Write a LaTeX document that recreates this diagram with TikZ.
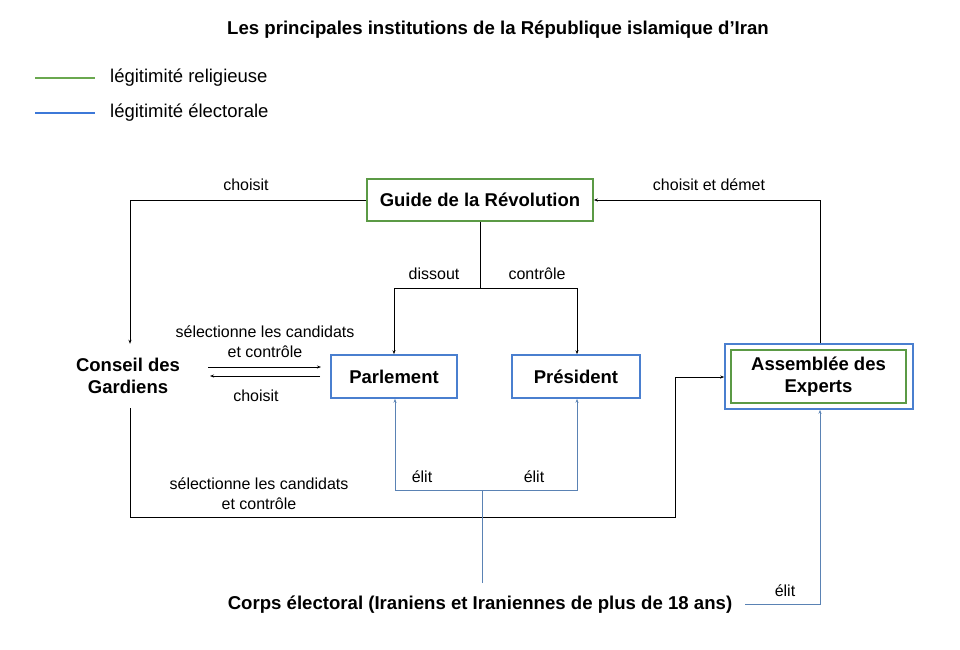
\documentclass[tikz,border=0pt]{standalone}
\usepackage{fontspec}
\setmainfont{Liberation Sans}
\usetikzlibrary{arrows.meta}
\definecolor{grn}{HTML}{5B9A45}
\definecolor{lgrn}{HTML}{6AA84F}
\definecolor{blu}{HTML}{4A7FCF}
\definecolor{lblu}{HTML}{3C78D8}
\definecolor{cblu}{HTML}{5A82B4}
\begin{document}
\begin{tikzpicture}[x=1pt,y=-1pt,
  lbl/.style={font=\fontsize{16}{20}\selectfont, inner sep=0pt, align=center},
  inst/.style={font=\fontsize{18.5}{22}\selectfont\bfseries, align=center, inner sep=0pt},
  conn/.style={draw=black, line width=0.8pt, -{Stealth[length=4pt,width=3pt]}},
  elec/.style={draw=cblu, line width=0.8pt, -{Stealth[length=4pt,width=3pt]}},
  plain/.style={draw=black, line width=0.8pt},
  plainb/.style={draw=cblu, line width=0.8pt}]
\useasboundingbox (0,0) rectangle (960,649);
% title
\node[font=\fontsize{18.6}{22}\selectfont\bfseries, inner sep=0pt] (title) at (498,30) {Les principales institutions de la République islamique d’Iran};
% legend
\coordinate (lg1a) at (35,78); \coordinate (lg1b) at (95,78);
\draw[lgrn, line width=1.6pt] (lg1a) -- (lg1b);
\node[font=\fontsize{18.5}{22}\selectfont, inner sep=0pt, anchor=west] (leg1) at (110,78) {légitimité religieuse};
\coordinate (lg2a) at (35,113); \coordinate (lg2b) at (95,113);
\draw[lblu, line width=1.6pt] (lg2a) -- (lg2b);
\node[font=\fontsize{18.5}{22}\selectfont, inner sep=0pt, anchor=west] (leg2) at (110,113) {légitimité électorale};
% boxes
\node[inst, draw=grn, line width=1.6pt, minimum width=226pt, minimum height=42pt] (guide) at (480,200) {Guide de la Révolution};
\node[inst, draw=blu, line width=1.6pt, minimum width=126pt, minimum height=43pt] (parl) at (394,376.5) {Parlement};
\node[inst, draw=blu, line width=1.6pt, minimum width=128pt, minimum height=43pt] (pres) at (576,376.5) {Président};
\node[draw=blu, line width=1.6pt, minimum width=188pt, minimum height=65pt, inner sep=0pt] (assO) at (819,376.5) {};
\node[inst, draw=grn, line width=1.6pt, minimum width=175pt, minimum height=53pt] (ass) at (818.5,376.5) {Assemblée des\\Experts};
\node[inst, minimum width=120pt, minimum height=64pt] (cons) at (128,376) {Conseil des\\Gardiens};
\node[font=\fontsize{18.6}{22}\selectfont\bfseries, inner sep=0pt] (corps) at (480,605) {Corps électoral (Iraniens et Iraniennes de plus de 18 ans)};
% Guide -> Conseil
\coordinate (c1) at (130,200);
\draw[conn] (guide.west) -- (c1) -- (c1 |- cons.north);
\node[lbl] (l1) at (246,185) {choisit};
% Assemblee -> Guide
\coordinate (c2) at (820,200);
\draw[conn] (assO.north -| c2) -- (c2) -- (guide.east);
\node[lbl] (l2) at (709,185) {choisit et démet};
% Guide -> Parlement / President
\coordinate (g1) at (480,288);
\coordinate (g2) at (394,288);
\coordinate (g3) at (577,288);
\draw[plain] (guide.south) -- (g1);
\draw[conn] (g1) -- (g2) -- (parl.north);
\draw[conn] (g1) -- (g3) -- (g3 |- pres.north);
\node[lbl] (l3) at (434,274) {dissout};
\node[lbl] (l4) at (537,274) {contrôle};
% Conseil <-> Parlement
\coordinate (a1) at (208,367); \coordinate (a2) at (321,367);
\coordinate (a3) at (320,376); \coordinate (a4) at (210,376);
\draw[conn] (a1) -- (a2);
\draw[conn] (a3) -- (a4);
\node[lbl] (l5) at (265,342) {sélectionne les candidats\\et contrôle};
\node[lbl] (l6) at (256,396) {choisit};
% Conseil -> Assemblee
\coordinate (b1) at (130,517); \coordinate (b2) at (675,517); \coordinate (b3) at (675,377);
\draw[conn] (cons.south -| b1) -- (b1) -- (b2) -- (b3) -- (assO.west |- b3);
\node[lbl] (l7) at (259,494) {sélectionne les candidats\\et contrôle};
% Corps -> Parlement / President
\coordinate (e0) at (482,583);
\coordinate (e1) at (482,490);
\coordinate (e2) at (395,490);
\coordinate (e3) at (577,490);
\draw[plainb] (e0) -- (e1);
\draw[elec] (e1) -- (e2) -- (e2 |- parl.south);
\draw[elec] (e1) -- (e3) -- (e3 |- pres.south);
\node[lbl] (l8) at (422,477) {élit};
\node[lbl] (l9) at (534,477) {élit};
% Corps -> Assemblee
\coordinate (f1) at (745,604); \coordinate (f2) at (820,604);
\draw[elec] (f1) -- (f2) -- (f2 |- assO.south);
\node[lbl] (l10) at (785,591) {élit};
\end{tikzpicture}
\end{document}
